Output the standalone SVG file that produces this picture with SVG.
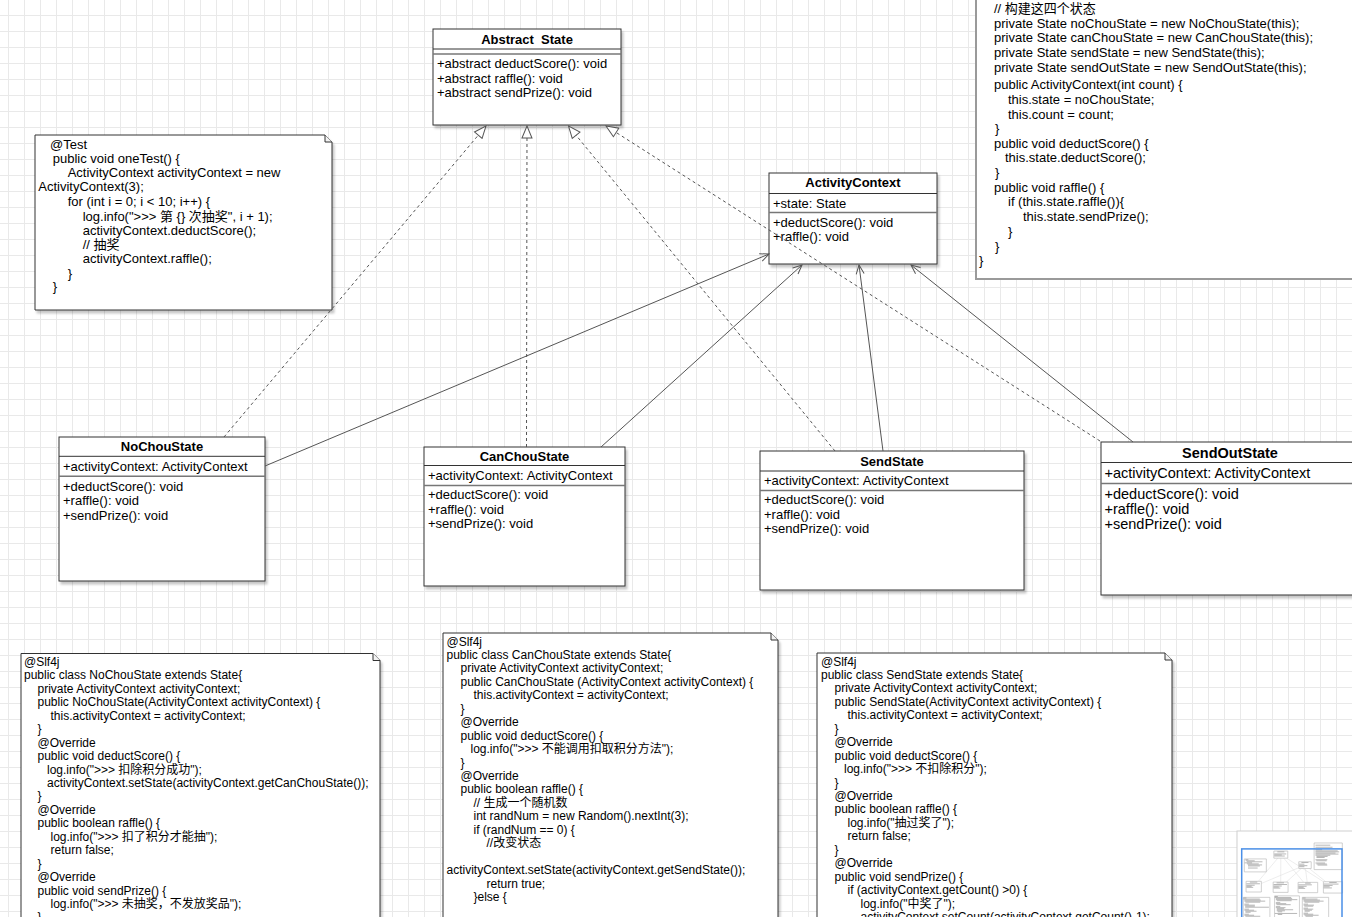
<svg xmlns="http://www.w3.org/2000/svg" width="1352" height="917" viewBox="0 0 1352 917">
<defs>
<style>
text{font-family:"Liberation Sans","Noto Sans CJK SC",sans-serif;font-size:13px;fill:#000}
.t{font-weight:bold;text-anchor:middle}
.big text{font-size:14.5px}
.code text{font-size:12px}
.box{fill:#fff;stroke:#333;stroke-width:1;filter:url(#sh)}
.div{stroke:#333;stroke-width:1}
.div2{stroke:#777;stroke-width:1.5}
.note{fill:#fff;stroke:#333;stroke-width:1;filter:url(#sh)}
.note2{fill:#fff;stroke:#9a9a9a;stroke-width:2}
.fold{fill:#f2f2f2;stroke:#333;stroke-width:1}
.real{fill:none;stroke:#555;stroke-width:1;stroke-dasharray:3 3;marker-end:url(#tri)}
.assoc{fill:none;stroke:#555;stroke-width:1;marker-end:url(#open)}
.mr{fill:#fff;stroke:#bdbdbd;stroke-width:0.7;vector-effect:non-scaling-stroke}
.ml{fill:none;stroke:#e0e0e0;stroke-width:0.6;vector-effect:non-scaling-stroke}
.mt{fill:none;stroke:#888;stroke-width:0.6;vector-effect:non-scaling-stroke}
</style>
<pattern id="grid" width="16" height="16" patternUnits="userSpaceOnUse" x="8" y="15">
<path d="M0 0.5H16M0.5 0V16" fill="none" stroke="#e9e9e9" stroke-width="1"/>
</pattern>
<filter id="sh" x="-5%" y="-5%" width="115%" height="115%">
<feDropShadow dx="2" dy="3" stdDeviation="1.2" flood-color="#000" flood-opacity="0.22"/>
</filter>
<marker id="tri" viewBox="0 0 14 12" refX="13" refY="6" markerWidth="14" markerHeight="12" markerUnits="userSpaceOnUse" orient="auto">
<path d="M1,1 L13,6 L1,11 Z" fill="#fff" stroke="#555" stroke-width="1"/>
</marker>
<marker id="open" viewBox="0 0 12 10" refX="11" refY="5" markerWidth="12" markerHeight="10" markerUnits="userSpaceOnUse" orient="auto">
<path d="M2,1 L11,5 L2,9" fill="none" stroke="#555" stroke-width="1"/>
</marker>
</defs>

<rect width="1352" height="917" fill="#fff"/>
<rect width="1352" height="917" fill="url(#grid)"/>

<!-- Abstract State -->
<g id="abstractState">
<rect class="box" x="433" y="29" width="188" height="96"/>
<line class="div" x1="433" y1="49" x2="621" y2="49"/>
<line class="div2" x1="433" y1="54" x2="621" y2="54"/>
<text class="t" x="527" y="43.5" style="white-space:pre">Abstract  State</text>
<text x="437" y="68">+abstract deductScore(): void</text>
<text x="437" y="82.5">+abstract raffle(): void</text>
<text x="437" y="97">+abstract sendPrize(): void</text>
</g>

<!-- ActivityContext -->
<g id="activityContext">
<rect class="box" x="769" y="173" width="168" height="91"/>
<line class="div" x1="769" y1="193.5" x2="937" y2="193.5"/>
<line class="div2" x1="769" y1="212.5" x2="937" y2="212.5"/>
<text class="t" x="853" y="187">ActivityContext</text>
<text x="773" y="207.8">+state: State</text>
<text x="773" y="226.8">+deductScore(): void</text>
<text x="773" y="240.5">+raffle(): void</text>
</g>

<!-- NoChouState -->
<g id="noChouState">
<rect class="box" x="59" y="437" width="206" height="144"/>
<line class="div" x1="59" y1="456.3" x2="265" y2="456.3"/>
<line class="div2" x1="59" y1="476.3" x2="265" y2="476.3"/>
<text class="t" x="162" y="450.8">NoChouState</text>
<text x="63" y="470.8">+activityContext: ActivityContext</text>
<text x="63" y="490.8">+deductScore(): void</text>
<text x="63" y="505.2">+raffle(): void</text>
<text x="63" y="519.5">+sendPrize(): void</text>
</g>

<!-- CanChouState -->
<g id="canChouState">
<rect class="box" x="424" y="447" width="201" height="139"/>
<line class="div" x1="424" y1="465.5" x2="625" y2="465.5"/>
<line class="div2" x1="424" y1="485.5" x2="625" y2="485.5"/>
<text class="t" x="524.5" y="460.5">CanChouState</text>
<text x="428" y="480">+activityContext: ActivityContext</text>
<text x="428" y="499">+deductScore(): void</text>
<text x="428" y="513.5">+raffle(): void</text>
<text x="428" y="528">+sendPrize(): void</text>
</g>

<!-- SendState -->
<g id="sendState">
<rect class="box" x="760" y="451" width="264" height="139"/>
<line class="div" x1="760" y1="471" x2="1024" y2="471"/>
<line class="div2" x1="760" y1="490.5" x2="1024" y2="490.5"/>
<text class="t" x="892" y="466">SendState</text>
<text x="764" y="485">+activityContext: ActivityContext</text>
<text x="764" y="504">+deductScore(): void</text>
<text x="764" y="518.5">+raffle(): void</text>
<text x="764" y="533">+sendPrize(): void</text>
</g>

<!-- SendOutState -->
<g id="sendOutState" class="big">
<rect class="box" x="1101" y="442" width="258" height="153"/>
<line class="div" x1="1101" y1="462.5" x2="1359" y2="462.5"/>
<line class="div2" x1="1101" y1="483.5" x2="1359" y2="483.5"/>
<text class="t" x="1230" y="457.5">SendOutState</text>
<text x="1104.5" y="477.7">+activityContext: ActivityContext</text>
<text x="1104.5" y="498.7">+deductScore(): void</text>
<text x="1104.5" y="513.7">+raffle(): void</text>
<text x="1104.5" y="529.2">+sendPrize(): void</text>
</g>

<!-- Test note -->
<g id="noteTest">
<path class="note" d="M35 135H325L332 142V310H35Z"/>
<path class="fold" d="M325 135V142H332"/>
<text x="50" y="148.5">@Test</text>
<text x="52.7" y="162.8">public void oneTest() {</text>
<text x="67.7" y="177.2">ActivityContext activityContext = new</text>
<text x="38.3" y="191.2">ActivityContext(3);</text>
<text x="67.7" y="205.5">for (int i = 0; i &lt; 10; i++) {</text>
<text x="82.7" y="220.5">log.info("&gt;&gt;&gt; 第 {} 次抽奖", i + 1);</text>
<text x="82.7" y="234.5">activityContext.deductScore();</text>
<text x="82.7" y="248.8">// 抽奖</text>
<text x="82.7" y="262.8">activityContext.raffle();</text>
<text x="67.7" y="277.8">}</text>
<text x="52.7" y="291.2">}</text>
</g>

<!-- ActivityContext code note -->
<g id="noteContext">
<rect class="note2" x="976" y="-80" width="400" height="359"/>
<text x="994" y="12.8">// 构建这四个状态</text>
<text x="994" y="27.8">private State noChouState = new NoChouState(this);</text>
<text x="994" y="42.2">private State canChouState = new CanChouState(this);</text>
<text x="994" y="57.2">private State sendState = new SendState(this);</text>
<text x="994" y="72.2">private State sendOutState = new SendOutState(this);</text>
<text x="994" y="88.8">public ActivityContext(int count) {</text>
<text x="1008" y="103.5">this.state = noChouState;</text>
<text x="1008" y="118.5">this.count = count;</text>
<text x="995" y="132.8">}</text>
<text x="994" y="147.8">public void deductScore() {</text>
<text x="1005" y="162.2">this.state.deductScore();</text>
<text x="995" y="176.8">}</text>
<text x="994" y="192.2">public void raffle() {</text>
<text x="1008" y="206.2">if (this.state.raffle()){</text>
<text x="1023" y="220.5">this.state.sendPrize();</text>
<text x="1008" y="235.5">}</text>
<text x="995" y="250.5">}</text>
<text x="979" y="264.5">}</text>
</g>

<!-- NoChouState code note -->
<g id="noteNoChou" class="code">
<path class="note" d="M21 653.5H373L380 660.5V1000H21Z"/>
<path class="fold" d="M373 653.5V660.5H380"/>
<text x="24" y="665.9">@Slf4j</text>
<text x="24" y="679.35">public class NoChouState extends State{</text>
<text x="37.5" y="692.8">private ActivityContext activityContext;</text>
<text x="37.5" y="706.25">public NoChouState(ActivityContext activityContext) {</text>
<text x="50.5" y="719.7">this.activityContext = activityContext;</text>
<text x="37.5" y="733.15">}</text>
<text x="37.5" y="746.6">@Override</text>
<text x="37.5" y="760.05">public void deductScore() {</text>
<text x="47" y="773.5">log.info("&gt;&gt;&gt; 扣除积分成功");</text>
<text x="47" y="786.95">activityContext.setState(activityContext.getCanChouState());</text>
<text x="37.5" y="800.4">}</text>
<text x="37.5" y="813.85">@Override</text>
<text x="37.5" y="827.3">public boolean raffle() {</text>
<text x="50.5" y="840.75">log.info("&gt;&gt;&gt; 扣了积分才能抽");</text>
<text x="50.5" y="854.2">return false;</text>
<text x="37.5" y="867.65">}</text>
<text x="37.5" y="881.1">@Override</text>
<text x="37.5" y="894.55">public void sendPrize() {</text>
<text x="50.5" y="908">log.info("&gt;&gt;&gt; 未抽奖，不发放奖品");</text>
<text x="37.5" y="921.45">}</text>
</g>

<!-- CanChouState code note -->
<g id="noteCanChou" class="code">
<path class="note" d="M443 633H771L778 640V1000H443Z"/>
<path class="fold" d="M771 633V640H778"/>
<text x="446.5" y="645.5">@Slf4j</text>
<text x="446.5" y="658.95">public class CanChouState extends State{</text>
<text x="460.5" y="672.4">private ActivityContext activityContext;</text>
<text x="460.5" y="685.85">public CanChouState (ActivityContext activityContext) {</text>
<text x="473.5" y="699.3">this.activityContext = activityContext;</text>
<text x="460.5" y="712.75">}</text>
<text x="460.5" y="726.2">@Override</text>
<text x="460.5" y="739.65">public void deductScore() {</text>
<text x="470.5" y="753.1">log.info("&gt;&gt;&gt; 不能调用扣取积分方法");</text>
<text x="460.5" y="766.55">}</text>
<text x="460.5" y="780">@Override</text>
<text x="460.5" y="793.45">public boolean raffle() {</text>
<text x="473.5" y="806.9">// 生成一个随机数</text>
<text x="473.5" y="820.35">int randNum = new Random().nextInt(3);</text>
<text x="473.5" y="833.8">if (randNum == 0) {</text>
<text x="486.5" y="847.25">//改变状态</text>
<text x="446.5" y="874.15">activityContext.setState(activityContext.getSendState());</text>
<text x="486.5" y="887.6">return true;</text>
<text x="473.5" y="901.05">}else {</text>
</g>

<!-- SendState code note -->
<g id="noteSend" class="code">
<path class="note" d="M817 653H1165L1172 660V1000H817Z"/>
<path class="fold" d="M1165 653V660H1172"/>
<text x="821" y="665.5">@Slf4j</text>
<text x="821" y="678.95">public class SendState extends State{</text>
<text x="834.5" y="692.4">private ActivityContext activityContext;</text>
<text x="834.5" y="705.85">public SendState(ActivityContext activityContext) {</text>
<text x="847.5" y="719.3">this.activityContext = activityContext;</text>
<text x="834.5" y="732.75">}</text>
<text x="834.5" y="746.2">@Override</text>
<text x="834.5" y="759.65">public void deductScore() {</text>
<text x="844" y="773.1">log.info("&gt;&gt;&gt; 不扣除积分");</text>
<text x="834.5" y="786.55">}</text>
<text x="834.5" y="800">@Override</text>
<text x="834.5" y="813.45">public boolean raffle() {</text>
<text x="847.5" y="826.9">log.info("抽过奖了");</text>
<text x="847.5" y="840.35">return false;</text>
<text x="834.5" y="853.8">}</text>
<text x="834.5" y="867.25">@Override</text>
<text x="834.5" y="880.7">public void sendPrize() {</text>
<text x="847.5" y="894.15">if (activityContext.getCount() &gt;0) {</text>
<text x="860.5" y="907.6">log.info("中奖了");</text>
<text x="860.5" y="921.05">activityContext.setCount(activityContext.getCount()-1);</text>
</g>

<!-- Connectors -->
<g id="connectors">
<path class="real" d="M224 437L486 126"/>
<path class="real" d="M526.5 447L527 126"/>
<path class="real" d="M835 451L568.5 126"/>
<path class="real" d="M1100 441L606 126"/>
<path class="assoc" d="M265 466L769 254"/>
<path class="assoc" d="M601 447L802 265"/>
<path class="assoc" d="M883 451L859 265"/>
<path class="assoc" d="M1133 442L911 265"/>
</g>

<!-- Outline minimap -->
<g id="minimap">
<rect x="1237" y="831" width="125" height="95" fill="#fff" stroke="#cfcfcf" stroke-width="1" filter="url(#sh)"/>
<g transform="translate(1241.7 848.9) scale(0.0742)">
<path class="ml" d="M224 437L486 126M526 447L527 126M835 451L568 126M1100 441L606 126M265 466L769 254M601 447L802 265M883 451L859 265M1133 442L911 265"/>
<rect class="mr" x="433" y="29" width="188" height="96"/>
<rect class="mr" x="769" y="173" width="168" height="91"/>
<rect class="mr" x="59" y="437" width="206" height="144"/>
<rect class="mr" x="424" y="447" width="201" height="139"/>
<rect class="mr" x="760" y="451" width="264" height="139"/>
<rect class="mr" x="1101" y="442" width="258" height="153"/>
<rect class="mr" x="35" y="135" width="297" height="175"/>
<rect class="mr" x="976" y="-80" width="380" height="359"/>
<rect class="mr" x="21" y="653" width="359" height="300"/>
<rect class="mr" x="443" y="633" width="335" height="300"/>
<rect class="mr" x="817" y="653" width="355" height="300"/>
<path class="mt" d="M480 40h95M440 68h160M440 82h100M440 96h140M805 184h95M775 206h70M775 226h110M775 240h70M110 448h100M65 470h180M65 490h110M65 504h70M65 518h90M470 458h100M430 480h180M430 500h110M430 514h70M430 528h90M855 462h75M765 484h180M765 504h110M765 518h70M765 532h90M1180 452h100M1105 474h200M1105 494h120M1105 510h80M1105 526h110M50 146h40M55 160h120M70 174h210M40 188h100M70 202h160M85 216h190M85 230h160M85 258h130M994 -50h200M994 -22h230M994 10h90M994 26h300M994 40h320M994 56h270M994 70h310M994 86h200M1008 102h150M1008 116h110M994 146h160M1005 160h140M994 190h130M1008 204h140M1023 218h130M24 662h40M24 676h220M37 690h220M37 704h280M50 718h200M37 744h60M37 758h140M47 772h130M47 786h320M37 812h60M37 826h130M50 840h150M50 854h70M37 880h60M37 894h130M50 908h200M447 642h40M447 656h220M460 670h220M460 684h290M473 698h200M460 724h60M460 738h140M470 752h190M460 778h60M460 792h130M473 806h100M473 820h220M473 834h110M486 848h60M447 870h300M486 884h60M821 662h40M821 676h200M834 690h220M834 704h270M847 718h200M834 744h60M834 758h140M844 772h120M834 798h60M834 812h130M847 826h100M847 840h70M834 866h60M834 880h130M847 894h190M860 908h100"/>
</g>
<rect x="1241.7" y="848.9" width="100.3" height="80" fill="none" stroke="#4a8fe7" stroke-width="1.5"/>
</g>
</svg>
